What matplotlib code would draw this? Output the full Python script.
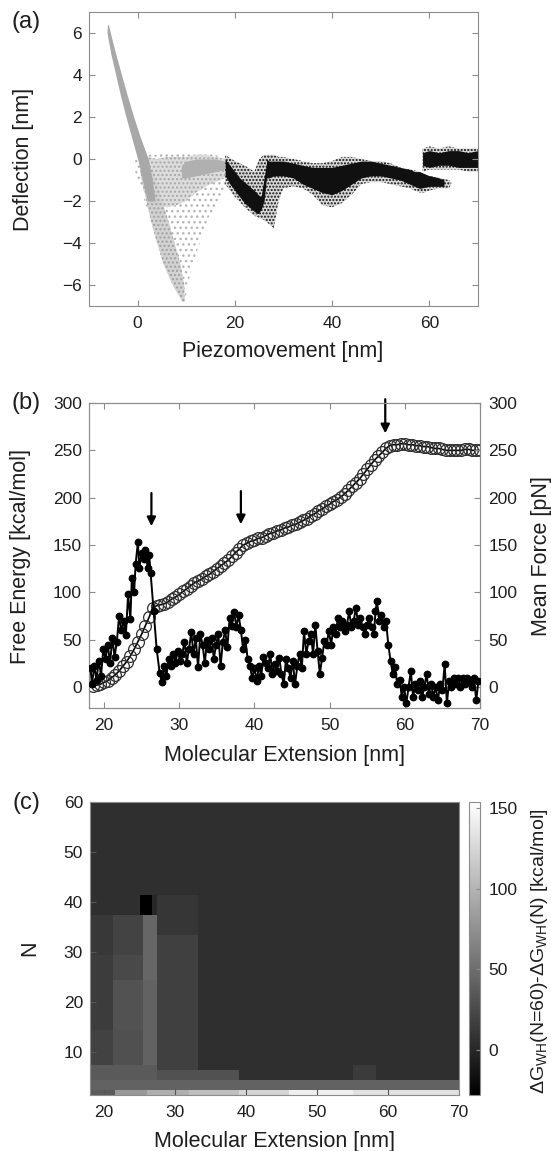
import numpy as np
import matplotlib
matplotlib.use("Agg")
import matplotlib.pyplot as plt

plt.rcParams['font.family'] = ['Liberation Sans', 'DejaVu Sans']
plt.rcParams['mathtext.fontset'] = 'custom'
plt.rcParams['mathtext.rm'] = 'Liberation Sans'
plt.rcParams['font.size'] = 12.5
plt.rcParams['hatch.linewidth'] = 1.0

W, H = 551, 1151
SPINE = '#8c8c8c'
TXT = '#1e1e1e'

# ---------------- (a) deflection vs piezomovement (read as envelopes) ----------------
# steep grey approach band, as x-limits per deflection level
gd_y = [6.4, 6.0, 5.0, 4.0, 3.0, 2.0, 1.0, 0.0, -1.0, -2.0]
gd_left = [-6.2, -6.3, -5.5, -4.5, -3.5, -2.4, -1.2, 0.0, 1.0, 2.0]
gd_right = [-6.0, -5.6, -4.5, -3.3, -2.1, -0.8, 0.6, 2.2, 3.0, 3.6]
# grey fan below the contact point
gf_y = [-0.5, -1.0, -2.0, -3.0, -4.0, -5.0, -6.0, -6.8]
gf_left = [0.5, 0.8, 1.8, 2.8, 4.0, 5.3, 7.2, 9.2]
gf_right = [3.0, 3.8, 5.0, 6.4, 7.6, 8.8, 9.6, 9.7]
# sparse grey cloud
gl_x = [-0.5, 1, 2, 3, 4, 5, 6, 7, 8, 9, 9.7, 10.5, 11.5, 12.5, 13.5, 14.5, 16, 17, 18]
gl_top = [0.3, 0.3, 0.2, 0.2, 0.2, 0.3, 0.3, 0.2, 0.3, 0.3, 0.3, 0.3, 0.4, 0.3, 0.3, 0.3, 0.2, 0.1, 0.0]
gl_bot = [-0.6, -1.6, -2.5, -3.2, -3.9, -4.4, -4.9, -5.3, -5.8, -6.3, -6.8, -5.8, -4.9, -4.2,
          -3.6, -2.8, -2.4, -2.0, -1.5]
# medium grey cloud
gm_x = [1, 2, 4, 6, 8, 10, 12, 14, 16, 18]
gm_top = [0.1, 0.1, 0.0, 0.1, 0.1, 0.1, 0.2, 0.2, 0.1, 0.0]
gm_bot = [-1.0, -1.5, -2.0, -2.3, -2.2, -2.0, -1.6, -1.3, -1.1, -0.9]
# dense grey flat part
gc_x = [9, 10, 12, 14, 16, 18]
gc_top = [-0.3, -0.1, 0.0, 0.0, 0.0, -0.1]
gc_bot = [-0.9, -0.9, -0.8, -0.7, -0.6, -0.5]

# sparse black cloud
bs_x = [18, 20, 22, 24, 25, 26, 27, 28, 29, 30, 32, 34, 36, 38, 40, 42, 44, 46, 48, 50,
        52, 54, 56, 58, 59, 60, 62, 64, 64.5]
bs_top = [0.2, -0.1, -0.3, -0.6, 0.0, 0.2, 0.2, 0.2, 0.1, 0.1, 0.0, -0.1, -0.2, -0.2, -0.1,
          0.1, 0.1, 0.0, -0.1, -0.1, -0.2, -0.4, -0.5, -0.6, -0.8, -0.8, -0.9, -1.0, -1.1]
bs_bot = [-1.2, -1.8, -2.3, -2.7, -2.8, -2.9, -3.1, -3.3, -2.0, -1.4, -1.3, -1.4, -1.7, -2.2,
          -2.3, -2.1, -1.7, -1.2, -1.1, -1.1, -1.2, -1.3, -1.4, -1.6, -1.6, -1.5, -1.4, -1.4, -1.2]
# dense black, first dip
bk_x = [18, 19, 20, 21, 22, 23, 24, 24.8, 25.4, 26.0, 26.5]
bk_top = [0.0, -0.3, -0.6, -0.9, -1.1, -1.3, -1.5, -1.7, -1.8, -0.9, -0.2]
bk_bot = [-0.8, -1.2, -1.5, -1.8, -2.1, -2.3, -2.5, -2.6, -2.4, -2.0, -0.9]
# dense black, middle band
bd_x = [26.5, 27, 28, 30, 32, 34, 36, 38, 40, 42, 44, 46, 48, 50, 52, 54, 56, 57, 58, 60, 62, 63]
bd_top = [0.0, -0.1, -0.1, -0.1, -0.2, -0.3, -0.4, -0.4, -0.4, -0.3, -0.2, -0.1, -0.1, -0.2,
          -0.3, -0.4, -0.5, -0.6, -0.6, -0.8, -0.9, -1.0]
bd_bot = [-0.9, -0.9, -0.8, -0.8, -0.9, -1.2, -1.4, -1.6, -1.7, -1.5, -1.2, -0.9, -0.8, -0.8,
          -0.9, -1.0, -1.2, -1.3, -1.4, -1.3, -1.3, -1.3]
# black band after last rupture
b3_x = [58.6, 60, 62, 64, 66, 68, 70]
b3_top = [0.3, 0.4, 0.3, 0.4, 0.4, 0.3, 0.4]
b3_bot = [-0.3, -0.4, -0.3, -0.3, -0.4, -0.4, -0.4]
b3s_top = [0.5, 0.6, 0.5, 0.6, 0.5, 0.5, 0.5]
b3s_bot = [-0.6, -0.5, -0.5, -0.5, -0.5, -0.6, -0.6]

# ---------------- (b) free energy and mean force ----------------
fe_ext = np.arange(18.5, 70.01, 0.5)
fe_val = [1, 2, 3, 5, 7, 10, 13, 17, 22, 27,
          33, 40, 48, 56, 65, 74, 84, 86, 87, 88,
          90, 93, 95, 98, 101, 104, 107, 110, 112, 114,
          117, 119, 122, 125, 128, 131, 134, 138, 142, 146,
          150, 152, 154, 155, 157, 158, 160, 162, 163, 165,
          166, 168, 169, 171, 172, 174, 176, 178, 181, 183,
          186, 188, 191, 193, 196, 198, 201, 204, 208, 212,
          216, 220, 225, 230, 235, 240, 244, 248, 252, 255,
          256, 256, 257, 257, 256, 256, 255, 255, 254, 254,
          253, 252, 252, 251, 250, 250, 250, 250, 250, 251,
          251, 250, 250, 250]

mf_ext = [18.2, 18.4, 18.7, 19.0, 19.3, 19.6, 19.9, 20.2, 20.5, 20.8,
          21.1, 21.4, 21.7, 22.0, 22.3, 22.6, 22.9, 23.2, 23.5, 23.7,
          24.0, 24.2, 24.5, 24.7, 25.0, 25.3, 25.5, 25.8, 26.0, 26.2,
          26.6, 27.0, 27.4, 27.7, 28.0, 28.3, 28.6, 28.9, 29.2, 29.5,
          29.8, 30.1, 30.4, 30.7, 31.0, 31.3, 31.6, 31.9, 32.2, 32.5,
          32.8, 33.1, 33.4, 33.7, 34.0, 34.3, 34.6, 34.9, 35.2, 35.5,
          35.8, 36.1, 36.4, 36.7, 37.0, 37.3, 37.6, 37.9, 38.2, 38.5,
          38.8, 39.1, 39.4, 39.7, 40.0, 40.3, 40.6, 40.9, 41.2, 41.5,
          41.8, 42.1, 42.4, 42.7, 43.0, 43.3, 43.6, 43.9, 44.2, 44.5,
          44.8, 45.1, 45.4, 45.7, 46.0, 46.3, 46.6, 46.9, 47.2, 47.5,
          47.8, 48.1, 48.4, 48.7, 49.0, 49.3, 49.6, 49.9, 50.2, 50.5,
          50.8, 51.1, 51.4, 51.7, 52.0, 52.3, 52.6, 52.9, 53.2, 53.5,
          53.8, 54.1, 54.4, 54.7, 55.0, 55.3, 55.6, 55.9, 56.1, 56.3,
          56.6, 56.9, 57.2, 57.5, 57.8, 58.1, 58.4, 58.7, 59.0, 59.3,
          59.6, 59.9, 60.2, 60.5, 60.8, 61.1, 61.4, 61.7, 62.0, 62.3,
          62.6, 62.9, 63.2, 63.5, 63.8, 64.1, 64.4, 64.7, 65.0, 65.3,
          65.6, 65.9, 66.2, 66.5, 66.8, 67.1, 67.4, 67.7, 68.0, 68.3,
          68.6, 68.9, 69.2, 69.5, 69.8]
mf_val = [20, 3, 22, 8, 28, 12, 40, 30, 45, 25,
          52, 32, 48, 75, 60, 70, 55, 98, 72, 115,
          100, 130, 153, 126, 142, 135, 145, 126, 140, 120,
          80, 40, 15, 5, 22, 12, 30, 22, 35, 26,
          38, 28, 35, 48, 26, 40, 58, 35, 52, 21,
          56, 45, 25, 50, 40, 52, 30, 45, 56, 22,
          48, 60, 42, 73, 65, 79, 64, 76, 60, 40,
          50, 30, 22, 10, 20, 7, 22, 12, 32, 26,
          20, 35, 14, 24, 17, 31, 14, 3, 30, 20,
          10, 28, 3, 22, 35, 20, 59, 35, 49, 56,
          35, 66, 38, 14, 31, 49, 45, 59, 45, 63,
          56, 73, 63, 70, 59, 66, 80, 63, 70, 84,
          66, 73, 63, 56, 66, 73, 63, 56, 80, 91,
          70, 76, 63, 70, 45, 28, 14, 21, 3, 8,
          -10, 0, -17, 0, 17, -10, 3, -3, 7, -10,
          0, 14, -7, 3, -10, 0, -14, 3, -3, 24,
          -17, 7, 0, 10, 3, 10, 0, 10, 3, 10,
          7, 0, 10, -14, 7]

arrow_ext = [26.3, 38.2, 57.4]
arrow_top = [205, 207, 304]
arrow_tip = [170, 172, 268]

# ---------------- (c) dGwh map, painted from blocks ----------------
bg_val = 6
blk_x0 = [18, 27.4, 18, 21.3, 21.3, 21.3, 21.3, 18, 18, 18, 25.5, 25.5, 18, 27.4, 27.4, 25.0, 26.7, 55.1,
          18, 21.5, 26, 32, 39, 46, 55]
blk_x1 = [70, 39, 21.3, 25.5, 25.5, 25.5, 25.5, 21.3, 21.3, 25.5, 27.4, 27.4, 27.4, 33.3, 33.3, 26.7, 27.4, 58.2,
          21.5, 26, 32, 39, 46, 55, 70]
blk_n0 = [0.5, 5, 30, 30, 25, 15, 8, 15, 5, 5, 25, 8, 5, 7, 33.3, 38, 38, 5,
          0.5, 0.5, 0.5, 0.5, 0.5, 0.5, 0.5]
blk_n1 = [5, 7, 38, 38, 30, 25, 15, 30, 15, 8, 38, 25, 8, 33.3, 42, 41.5, 42, 8,
          2.5, 2.5, 2.5, 2.5, 2.5, 2.5, 2.5]
blk_val = [42, 30, 12, 20, 24, 31, 29, 15, 19, 34, 45, 42, 36, 18, 11, -28, 0, 14,
           36, 81, 97, 108, 124, 142, 132]

# ---------------- figure ----------------
fig = plt.figure(figsize=(W / 100, H / 100), dpi=100)


def px_axes(l, t, r, b):
    return fig.add_axes([l / W, 1 - b / H, (r - l) / W, (b - t) / H])


def style(ax, top=True, right=True):
    for s in ax.spines.values():
        s.set_color(SPINE)
        s.set_linewidth(0.8)
    ax.tick_params(direction='in', length=4, width=0.8, color=SPINE, labelcolor=TXT,
                   top=top, right=right, labelsize=12.5)
    ax.tick_params(axis='x', pad=7)
    ax.tick_params(axis='y', pad=5)


def ftext(x, y, s, **kw):
    fig.text(x / W, 1 - y / H, s, ha='center', va='center', color=TXT, **kw)


# (a)
ax_a = px_axes(89, 12, 478, 306)
ax_a.fill_between(gl_x, gl_bot, gl_top, facecolor='white', edgecolor='#b5b5b5',
                  hatch='...', lw=0)
ax_a.fill_between(gm_x, gm_bot, gm_top, facecolor='#dcdcdc', edgecolor='#a8a8a8',
                  hatch='....', lw=0)
ax_a.fill_betweenx(gf_y, gf_left, gf_right, facecolor='#d2d2d2', edgecolor='#a0a0a0',
                   hatch='....', lw=0)
ax_a.fill_between(gc_x, gc_bot, gc_top, color='#b0b0b0', lw=0)
ax_a.fill_betweenx(gd_y, gd_left, gd_right, color='#a8a8a8', lw=0)
ax_a.fill_between(bs_x, bs_bot, bs_top, facecolor='#d8d8d8', edgecolor='#111111',
                  hatch='.....', lw=0)
ax_a.fill_between(b3_x, b3s_bot, b3s_top, facecolor='#d8d8d8', edgecolor='#111111',
                  hatch='.....', lw=0)
ax_a.fill_between(bk_x, bk_bot, bk_top, color='#101010', lw=0)
ax_a.fill_between(bd_x, bd_bot, bd_top, color='#101010', lw=0)
ax_a.fill_between(b3_x, b3_bot, b3_top, color='#101010', lw=0)
ax_a.set_xlim(-10, 70)
ax_a.set_ylim(-7, 7)
ax_a.set_xticks([0, 20, 40, 60])
ax_a.set_yticks([-6, -4, -2, 0, 2, 4, 6])
style(ax_a)
ftext(283, 351, 'Piezomovement [nm]', fontsize=15.5)
ftext(23, 159, 'Deflection [nm]', fontsize=15.5, rotation=90)
ftext(26, 22, '(a)', fontsize=17)

# (b)
ax_b = px_axes(89, 403, 480, 708)
ax_b.plot(fe_ext, fe_val, color='black', lw=1.2, marker='o', ms=8.5, mfc='none',
          mec='#303030', mew=0.9, zorder=2)
ax_b.set_xlim(18, 70)
ax_b.set_ylim(-22, 300)
ax_b.set_xticks([20, 30, 40, 50, 60, 70])
ax_b.set_yticks([0, 50, 100, 150, 200, 250, 300])
style(ax_b, top=True, right=False)
for xa, ya, yt in zip(arrow_ext, arrow_top, arrow_tip):
    ax_b.annotate('', xy=(xa, yt), xytext=(xa, ya), annotation_clip=False,
                  arrowprops=dict(arrowstyle='-|>', color='black', lw=1.6,
                                  mutation_scale=13, shrinkA=0, shrinkB=0))
ax_b2 = ax_b.twinx()
ax_b2.plot(mf_ext, mf_val, color='black', lw=1.4, marker='o', ms=4.6,
           mfc='black', mec='black', zorder=3)
ax_b2.set_ylim(-22, 300)
ax_b2.set_yticks([0, 50, 100, 150, 200, 250, 300])
for s in ax_b2.spines.values():
    s.set_color(SPINE)
    s.set_linewidth(0.8)
ax_b2.tick_params(direction='in', length=4, width=0.8, color=SPINE, labelcolor=TXT,
                  labelsize=12.5, pad=6)
ftext(284, 755, 'Molecular Extension [nm]', fontsize=15.5)
ftext(21, 556, 'Free Energy [kcal/mol]', fontsize=15.5, rotation=90)
ftext(542, 556, 'Mean Force [pN]', fontsize=15.5, rotation=90)
ftext(26, 403, '(b)', fontsize=17)

# (c)
x_edges = np.linspace(18, 70, 209)
n_edges = np.arange(0.5, 61, 1.0)
xc = 0.5 * (x_edges[:-1] + x_edges[1:])
nc = 0.5 * (n_edges[:-1] + n_edges[1:])
grid = np.full((len(nc), len(xc)), float(bg_val))
for x0, x1, n0, n1, v in zip(blk_x0, blk_x1, blk_n0, blk_n1, blk_val):
    cols = (xc >= x0) & (xc < x1)
    rows = (nc >= n0) & (nc < n1)
    grid[np.ix_(rows, cols)] = v

ax_c = px_axes(90, 802, 459, 1095)
mesh = ax_c.pcolormesh(x_edges, n_edges, grid, cmap='gray', vmin=-28, vmax=154,
                       shading='flat', rasterized=True)
ax_c.set_xlim(18, 70)
ax_c.set_ylim(1.4, 60)
ax_c.set_xticks([20, 30, 40, 50, 60, 70])
ax_c.set_yticks([10, 20, 30, 40, 50, 60])
style(ax_c, top=False, right=False)
ax_c.tick_params(color='#555555')

cax = px_axes(469, 802, 480, 1095)
cb = fig.colorbar(mesh, cax=cax)
cb.set_ticks([0, 50, 100, 150])
cb.outline.set_edgecolor(SPINE)
cb.outline.set_linewidth(0.8)
cax.tick_params(direction='in', length=3, width=0.8, color=SPINE, labelcolor=TXT,
                labelsize=12.5, pad=6)

ftext(274, 1141, 'Molecular Extension [nm]', fontsize=15.5)
ftext(30, 948, 'N', fontsize=15.5, rotation=90)
ftext(540, 951, r'ΔG$_{\mathrm{WH}}$(N=60)-ΔG$_{\mathrm{WH}}$(N) [kcal/mol]', fontsize=14,
      rotation=90)
ftext(26, 803, '(c)', fontsize=17)

fig.savefig('out.png', dpi=100)
